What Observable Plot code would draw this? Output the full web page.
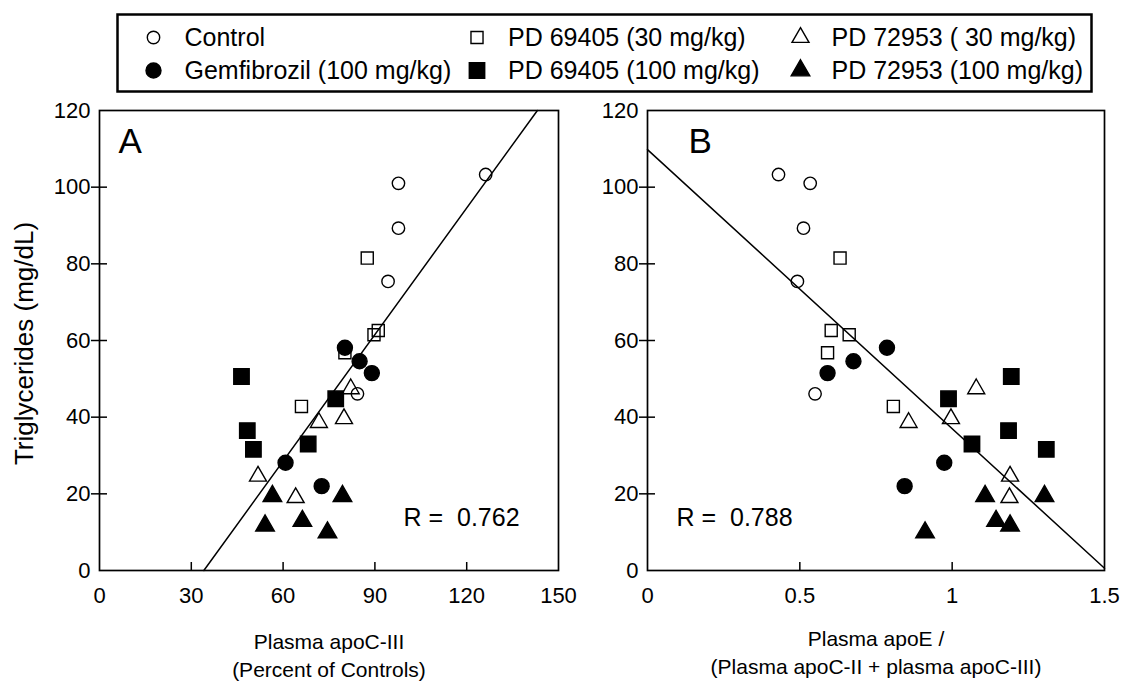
<!DOCTYPE html>
<html>
<head>
<meta charset="utf-8">
<script src="https://cdn.jsdelivr.net/npm/d3@7"></script>
<script src="https://cdn.jsdelivr.net/npm/@observablehq/plot@0.6"></script>
<style>
  body { margin: 0; background: #fff; }
  #wrap { position: relative; width: 1125px; height: 685px; overflow: hidden; background: #fff; }
  #wrap > svg { position: absolute; }
</style>
</head>
<body>
<div id="wrap"></div>
<script>
// ---------- data ----------
const groups = [
  "Control",
  "Gemfibrozil (100 mg/kg)",
  "PD 69405 (30 mg/kg)",
  "PD 69405 (100 mg/kg)",
  "PD 72953 ( 30 mg/kg)",
  "PD 72953 (100 mg/kg)"
];
// Triglycerides (mg/dL), one list per group
const triglycerides = [
  [103.3, 101.0, 89.3, 75.4, 46.1],
  [58.1, 54.6, 51.5, 28.1, 22.0],
  [81.5, 62.6, 61.5, 56.8, 42.8],
  [50.6, 36.5, 31.6, 33.0, 44.8],
  [47.4, 39.6, 38.6, 24.6, 19.0],
  [19.4, 19.4, 9.9, 12.9, 11.7]
];
// Plasma apoC-III (percent of controls)
const apoC3Percent = [
  [126.2, 97.7, 97.7, 94.3, 84.3],
  [80.2, 85.0, 89.0, 60.8, 72.6],
  [87.5, 91.1, 89.7, 80.2, 66.0],
  [46.4, 48.3, 50.3, 68.2, 77.2],
  [82.1, 79.9, 71.7, 51.8, 64.1],
  [56.5, 79.4, 74.5, 66.3, 54.1]
];
// Plasma apoE / (apoC-II + apoC-III)
const apoERatio = [
  [0.430, 0.534, 0.512, 0.492, 0.550],
  [0.786, 0.676, 0.591, 0.974, 0.844],
  [0.632, 0.603, 0.662, 0.591, 0.807],
  [1.194, 1.185, 1.309, 1.065, 0.988],
  [1.079, 0.996, 0.857, 1.190, 1.188],
  [1.108, 1.303, 0.911, 1.144, 1.190]
];
// fitted lines (end points)
const fitAx = [34.1, 143.1], fitAy = [0, 120];
const fitBx = [0, 1.5],      fitBy = [109.8, 0.6];
const rA = "R =  0.762", rB = "R =  0.788";

const yTicks = [0, 20, 40, 60, 80, 100, 120];
const yInnerTicks = [20, 40, 60, 80, 100];
const xTicksA = [0, 30, 60, 90, 120, 150];
const xInnerA = [30, 60, 90, 120];
const xTicksB = [0, 0.5, 1, 1.5];
const xInnerB = [0.5, 1];

const yTitle = "Triglycerides (mg/dL)";
const xTitleA = "Plasma apoC-III\n(Percent of Controls)";
const xTitleB = "Plasma apoE /\n(Plasma apoC-II + plasma apoC-III)";

// ---------- styling ----------
const FONT = "'Liberation Sans', Arial, Helvetica, sans-serif";
const symStyle = [
  {symbol: "circle",   r: 6.2, fill: "none"},
  {symbol: "circle",   r: 7.5, fill: "#000"},
  {symbol: "square",   r: 6.8, fill: "none"},
  {symbol: "square",   r: 8.7, fill: "#000"},
  {symbol: "triangle", r: 6.3, fill: "none"},
  {symbol: "triangle", r: 6.9, fill: "#000"}
];
const drawOrder = [0, 2, 4, 1, 3, 5];

const rowsFor = (xs) => groups.flatMap((g, gi) =>
  xs[gi].map((xv, k) => ({group: gi, x: xv, y: triglycerides[gi][k]})));

function dotMarks(rows) {
  return drawOrder.map(gi => Plot.dot(rows.filter(d => d.group === gi), {
    x: "x", y: "y",
    symbol: () => symStyle[gi].symbol,
    r: symStyle[gi].r,
    fill: symStyle[gi].fill,
    stroke: "#000",
    strokeWidth: 1.4
  }));
}

function panel(opt) {
  const height = 590, marginTop = 15, marginBottom = 115;
  const plotH = height - marginTop - marginBottom;
  const plotW = opt.width - opt.marginLeft - opt.marginRight;
  const rows = rowsFor(opt.xs);
  const fit = opt.fitX.map((xv, i) => ({x: xv, y: opt.fitY[i]}));
  const marks = [
    Plot.frame({stroke: "#000", strokeWidth: 1.7}),
    Plot.axisX(opt.xTicks, {tickSize: 0, tickPadding: 17, fontSize: 22, tickFormat: d => String(d)}),
    Plot.axisY(yTicks, {tickSize: 0, tickPadding: 9, fontSize: 22, tickFormat: d => String(d)}),
    Plot.tickX(opt.xInner, {x: d => d, insetTop: plotH - 8, stroke: "#000", strokeWidth: 1.5}),
    Plot.tickY(yInnerTicks, {y: d => d, insetLeft: -8, insetRight: plotW - 8, stroke: "#000", strokeWidth: 1.5}),
    Plot.line(fit, {x: "x", y: "y", stroke: "#000", strokeWidth: 1.5}),
    ...dotMarks(rows),
    Plot.text([opt.letter], {frameAnchor: "top-left", textAnchor: "start", lineAnchor: "top",
      dx: opt.letterDx, dy: 18, fontSize: 35, fill: "#000"}),
    Plot.text([opt.rText], {frameAnchor: "bottom-left", textAnchor: "start", lineAnchor: "middle",
      dx: opt.rDx, dy: -53, fontSize: 25, fill: "#000"}),
    Plot.text([opt.xTitle], {frameAnchor: "bottom", textAnchor: "middle", lineAnchor: "top",
      dy: opt.titleDy, lineHeight: 1.35, fontSize: 21, fill: "#000"})
  ];
  if (opt.yTitle) marks.push(Plot.text([opt.yTitle], {frameAnchor: "left", rotate: -90,
      textAnchor: "middle", lineAnchor: "middle", dx: -75, dy: 3, fontSize: 26, fill: "#000"}));
  return Plot.plot({
    width: opt.width, height, marginTop, marginBottom,
    marginLeft: opt.marginLeft, marginRight: opt.marginRight,
    style: {fontFamily: FONT, fontSize: "22px", color: "#000", background: "transparent", overflow: "visible"},
    x: {type: "linear", domain: opt.xDomain, label: null},
    y: {type: "linear", domain: [0, 120], label: null},
    marks
  });
}

const wrap = document.getElementById("wrap");

// ---------- legend ----------
const legendRows = groups.map((g, i) => ({name: g, gi: i, col: Math.floor(i / 2), row: i % 2}));
const legend = Plot.plot({
  width: 1125, height: 95, marginLeft: 117, marginRight: 34, marginTop: 14, marginBottom: 4,
  style: {fontFamily: FONT, fontSize: "25px", color: "#000", background: "transparent", overflow: "visible"},
  x: {type: "linear", domain: [0, 2], range: [153, 800], axis: null},
  y: {type: "linear", domain: [0, 1], range: [37, 70], axis: null},
  marks: [
    Plot.frame({stroke: "#000", strokeWidth: 2.5}),
    ...drawOrder.map(gi => Plot.dot(legendRows.filter(d => d.gi === gi), {
      x: "col", y: "row", symbol: () => symStyle[gi].symbol, r: symStyle[gi].r,
      fill: symStyle[gi].fill, stroke: "#000", strokeWidth: 1.4})),
    Plot.text(legendRows, {x: "col", y: "row", text: "name", dx: 31, textAnchor: "start",
      lineAnchor: "middle", fontSize: 25, fill: "#000"})
  ]
});
legend.style.left = "0px"; legend.style.top = "0px";
wrap.appendChild(legend);

// ---------- panels ----------
const pA = panel({
  width: 600, marginLeft: 99, marginRight: 42, xs: apoC3Percent, xDomain: [0, 150],
  xTicks: xTicksA, xInner: xInnerA, fitX: fitAx, fitY: fitAy, letter: "A", letterDx: 19,
  rText: rA, rDx: 304, xTitle: xTitleA, yTitle: yTitle, titleDy: 58
});
pA.style.left = "0px"; pA.style.top = "95px";
wrap.appendChild(pA);

const pB = panel({
  width: 525, marginLeft: 47, marginRight: 21, xs: apoERatio, xDomain: [0, 1.5],
  xTicks: xTicksB, xInner: xInnerB, fitX: fitBx, fitY: fitBy, letter: "B", letterDx: 41,
  rText: rB, rDx: 29, xTitle: xTitleB, titleDy: 55
});
pB.style.left = "600px"; pB.style.top = "95px";
wrap.appendChild(pB);
</script>
</body>
</html>
